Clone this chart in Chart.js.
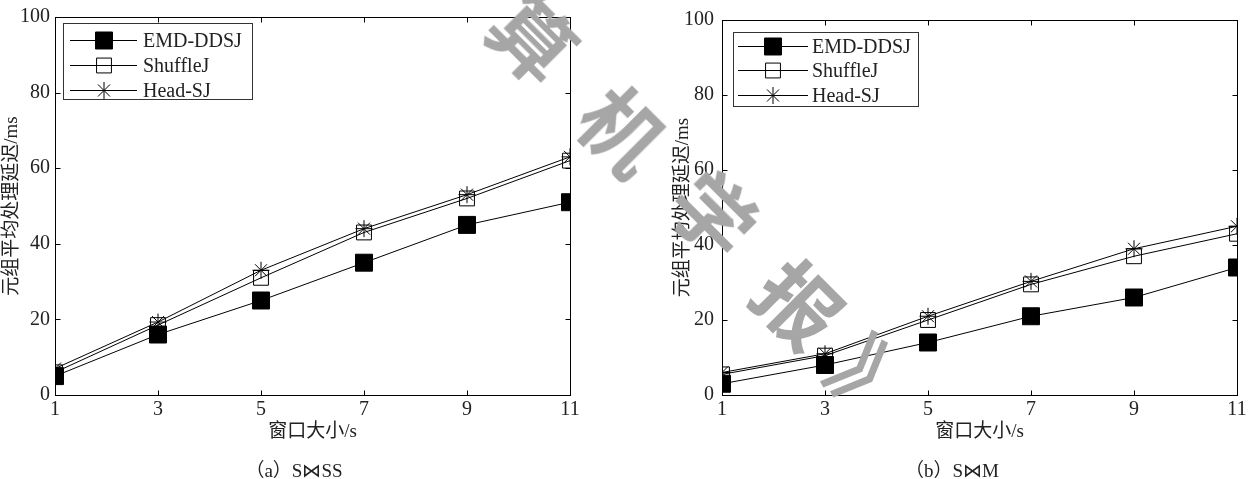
<!DOCTYPE html>
<html>
<head>
<meta charset="utf-8">
<script src="https://cdn.jsdelivr.net/npm/chart.js@4.4.1/dist/chart.umd.min.js"></script>
<style>
  html, body { margin: 0; padding: 0; background: #fff; }
  #wrap { position: relative; width: 1258px; height: 479px; overflow: hidden; }
  .panel { position: absolute; top: 0; width: 629px; height: 479px; }
  .cap { position: absolute; top: 455px; font: 19px 'Liberation Serif', 'DejaVu Serif', 'Noto Sans CJK SC', serif;
         color: #222; white-space: nowrap; transform: translateX(-50%); }
  .wm { position: absolute; font: 700 82px 'Noto Sans CJK SC', sans-serif; color: #a6a6a6; line-height: 1;
        transform: translate(-50%, -50%) rotate(45deg); pointer-events: none; white-space: nowrap; }
</style>
</head>
<body>
<div id="wrap">
  <div class="panel" style="left:0"><canvas id="chartSS" width="629" height="479"></canvas></div>
  <div class="panel" style="left:629px"><canvas id="chartM" width="629" height="479"></canvas></div>
  <div class="cap" style="left:294px">（a）S⋈SS</div>
  <div class="cap" style="left:952px">（b）S⋈M</div>
  <!-- journal watermark -->
  <span class="wm" style="left:535px;top:36px">算</span>
  <span class="wm" style="left:625px;top:128px">机</span>
  <span class="wm" style="left:716px;top:212px">学</span>
  <span class="wm" style="left:801px;top:302px">报</span>
  <span class="wm" style="left:876px;top:380px">》</span>
</div>
<script>
// Window sizes (s) on the x axis and the tick values of both axes
const windowSizes = [1, 3, 5, 7, 9, 11];
const xTickValues = [1, 3, 5, 7, 9, 11];
const yTickValues = [0, 20, 40, 60, 80, 100];
const seriesNames = ['EMD-DDSJ', 'ShuffleJ', 'Head-SJ'];

// (a) S⋈SS : average tuple processing latency (ms)
const ssEmdDdsj = [5, 16, 25, 35, 45, 51];
const ssShuffleJ = [6, 18.5, 31, 43, 52, 62];
const ssHeadSJ = [7, 19.3, 33, 44, 53, 63];

// (b) S⋈M : average tuple processing latency (ms)
const mEmdDdsj = [3, 8, 14, 21, 26, 34];
const mShuffleJ = [5.5, 10.5, 20, 29.5, 37, 43];
const mHeadSJ = [6, 11, 21, 30.3, 39, 45];

const latin = "'Liberation Serif', 'DejaVu Serif', 'Noto Sans CJK SC', serif";
const tickFont = { family: latin, size: 20 };
const titleFont = { family: latin, size: 19 };
const inkColor = '#222';

const markerStyles = [
  { pointStyle: 'rect', pointRadius: 12, pointBackgroundColor: '#000', pointBorderColor: '#000' },
  { pointStyle: 'rect', pointRadius: 10.5, pointBackgroundColor: 'rgba(0,0,0,0)', pointBorderColor: '#000' },
  { pointStyle: 'star', pointRadius: 8.5, pointBackgroundColor: 'rgba(0,0,0,0)', pointBorderColor: '#000' }
];

// Box frame with inward ticks on all four sides
const frameTicks = {
  id: 'frameTicks',
  beforeDatasetsDraw(chart) {
    const { ctx, chartArea: a, scales: { x, y } } = chart;
    const L = Math.round(a.left) + 0.5, R = Math.round(a.right) + 0.5;
    const T = Math.round(a.top) + 0.5, B = Math.round(a.bottom) + 0.5;
    const len = 5;
    ctx.save();
    ctx.strokeStyle = '#000';
    ctx.lineWidth = 1;
    ctx.strokeRect(L, T, R - L, B - T);
    ctx.beginPath();
    x.ticks.forEach(t => {
      const px = Math.round(x.getPixelForValue(t.value)) + 0.5;
      ctx.moveTo(px, B); ctx.lineTo(px, B - len);
      ctx.moveTo(px, T); ctx.lineTo(px, T + len);
    });
    y.ticks.forEach(t => {
      const py = Math.round(y.getPixelForValue(t.value)) + 0.5;
      ctx.moveTo(L, py); ctx.lineTo(L + len, py);
      ctx.moveTo(R, py); ctx.lineTo(R - len, py);
    });
    ctx.stroke();
    ctx.restore();
  }
};

// Boxed legend inside the plot area, line + marker + name per series
const boxedLegend = {
  id: 'boxedLegend',
  afterDatasetsDraw(chart, args, opts) {
    const { ctx, chartArea: a } = chart;
    const left = a.left + opts.dx, top = a.top + opts.dy;
    ctx.save();
    ctx.fillStyle = '#fff';
    ctx.fillRect(Math.round(left) + 0.5, Math.round(top) + 0.5, opts.w, opts.h);
    ctx.strokeStyle = '#333';
    ctx.lineWidth = 1;
    ctx.strokeRect(Math.round(left) + 0.5, Math.round(top) + 0.5, opts.w, opts.h);
    chart.data.datasets.forEach((ds, i) => {
      const yy = Math.round(a.top + opts.rows[i]) + 0.5;
      ctx.beginPath();
      ctx.strokeStyle = '#000';
      ctx.lineWidth = 1;
      ctx.moveTo(a.left + opts.line[0], yy);
      ctx.lineTo(a.left + opts.line[1], yy);
      ctx.stroke();
      ctx.fillStyle = ds.pointBackgroundColor;
      ctx.strokeStyle = ds.pointBorderColor;
      ctx.lineWidth = 1;
      Chart.helpers.drawPoint(ctx, { pointStyle: ds.pointStyle, radius: ds.pointRadius, rotation: 0, borderWidth: 1 },
        a.left + opts.marker, yy);
      ctx.fillStyle = inkColor;
      ctx.font = '20px ' + latin;
      ctx.textAlign = 'left';
      ctx.textBaseline = 'middle';
      ctx.fillText(ds.label, a.left + opts.text, yy + 1);
    });
    ctx.restore();
  }
};

function buildChart(canvasId, series, layout) {
  const datasets = series.map((values, i) => Object.assign({
    label: seriesNames[i],
    data: windowSizes.map((w, k) => ({ x: w, y: values[k] })),
    borderColor: '#000',
    borderWidth: 1,
    pointBorderWidth: 1,
    tension: 0,
    fill: false
  }, markerStyles[i]));

  return new Chart(document.getElementById(canvasId), {
    type: 'line',
    data: { datasets },
    options: {
      responsive: false,
      animation: false,
      layout: { padding: layout.padding },
      plugins: {
        legend: { display: false },
        tooltip: { enabled: false },
        boxedLegend: layout.legend
      },
      scales: {
        x: {
          type: 'linear', min: 1, max: 11,
          afterBuildTicks: s => { s.ticks = xTickValues.map(v => ({ value: v })); },
          afterFit: s => { s.height = 48; },
          grid: { display: false, drawTicks: false },
          border: { display: false },
          ticks: { font: tickFont, color: inkColor, padding: 3, maxRotation: 0, autoSkip: false },
          title: { display: true, text: '窗口大小/s', font: titleFont, color: inkColor, padding: { top: 0, bottom: 0 } }
        },
        y: {
          type: 'linear', min: 0, max: 100,
          afterBuildTicks: s => { s.ticks = yTickValues.map(v => ({ value: v })); },
          afterFit: s => { s.width = layout.yWidth; },
          grid: { display: false, drawTicks: false },
          border: { display: false },
          ticks: { font: tickFont, color: inkColor, padding: layout.yTickPad },
          title: { display: true, text: '元组平均处理延迟/ms', font: titleFont, color: inkColor, padding: { top: 1, bottom: 0 } }
        }
      }
    },
    plugins: [frameTicks, boxedLegend]
  });
}

buildChart('chartSS', [ssEmdDdsj, ssShuffleJ, ssHeadSJ], {
  padding: { left: 0, right: 59, top: 12, bottom: 36 },
  yWidth: 55,
  yTickPad: 5,
  legend: { dx: 8, dy: 6, w: 189, h: 76, rows: [23, 48, 73], line: [15, 82], marker: 49, text: 88 }
});

buildChart('chartM', [mEmdDdsj, mShuffleJ, mHeadSJ], {
  padding: { left: 42, right: 21, top: 12, bottom: 36 },
  yWidth: 51,
  yTickPad: 8,
  legend: { dx: 11, dy: 12, w: 185, h: 74, rows: [26, 50, 75], line: [16, 86], marker: 51, text: 90 }
});
</script>
</body>
</html>
